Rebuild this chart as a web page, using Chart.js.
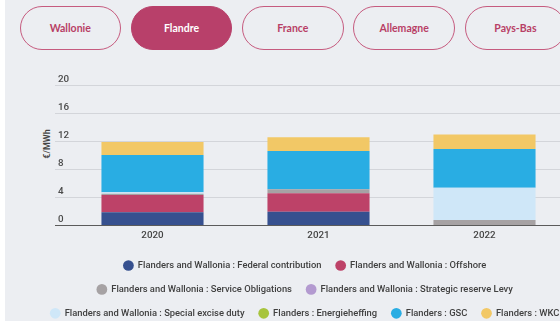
<!DOCTYPE html>
<html lang="fr">
<head>
<meta charset="UTF-8">
<title>Flandre - €/MWh</title>
<script src="https://cdn.jsdelivr.net/npm/chart.js"></script>
<style>
  html, body {
    margin: 0;
    padding: 0;
    width: 560px;
    height: 321px;
    overflow: hidden;
    background: #ffffff;
  }
  #bg {
    position: absolute;
    left: 5px;
    top: 0;
    width: 600px;
    height: 340px;
    background: #eceef2;
  }
  .tabs {
    position: absolute;
    left: 19.5px;
    top: 6.3px;
    display: flex;
    gap: 9.8px;
  }
  .tabs button {
    width: 101.5px;
    height: 44px;
    box-sizing: border-box;
    padding: 0;
    border: 1.2px solid #c65b7f;
    border-radius: 22px;
    background: transparent;
    color: #b83f66;
    font: 700 10.5px Lato, sans-serif;
  }
  .tabs button.active {
    background: #b8406a;
    border-color: #b8406a;
    color: #ffffff;
  }
  #unit {
    position: absolute;
    left: 47px;
    top: 144px;
    transform: translate(-50%, -50%) rotate(-90deg);
    font: 600 9px Roboto, sans-serif;
    color: #444444;
    white-space: nowrap;
  }
  #chart {
    position: absolute;
    left: 20px;
    top: 58px;
  }
</style>
</head>
<body>
<div id="bg"></div>
<div class="tabs">
  <button>Wallonie</button>
  <button class="active">Flandre</button>
  <button>France</button>
  <button>Allemagne</button>
  <button>Pays-Bas</button>
</div>
<span id="unit">€/MWh</span>
<canvas id="chart" width="570" height="270"></canvas>

<script>
// years on the x axis
const years = ['2020', '2021', '2022'];

// €/MWh per component
const federalContribution = [1.88, 1.96, 0];
const offshore = [2.46, 2.62, 0];
const serviceObligations = [0.18, 0.57, 0.78];
const strategicReserve = [0, 0, 0];
const specialExcise = [0.2, 0, 4.6];
const energieheffing = [0, 0, 0];
const gsc = [5.3, 5.45, 5.5];
const wkc = [1.85, 1.95, 2.09];

const yTicks = { min: 0, max: 20, step: 4 };

const series = [
  { label: 'Flanders and Wallonia : Federal contribution', data: federalContribution, color: '#36508f' },
  { label: 'Flanders and Wallonia : Offshore', data: offshore, color: '#bd4268' },
  { label: 'Flanders and Wallonia : Service Obligations', data: serviceObligations, color: '#a6a2a4' },
  { label: 'Flanders and Wallonia : Strategic reserve Levy', data: strategicReserve, color: '#b39ad0' },
  { label: 'Flanders and Wallonia : Special excise duty', data: specialExcise, color: '#cfe7f8' },
  { label: 'Flanders : Energieheffing', data: energieheffing, color: '#a7c43c' },
  { label: 'Flanders : GSC', data: gsc, color: '#29ade3' },
  { label: 'Flanders : WKC', data: wkc, color: '#f2c866' }
];

Chart.defaults.font.family = 'Roboto, sans-serif';

new Chart(document.getElementById('chart'), {
  type: 'bar',
  data: {
    labels: years,
    datasets: series.map(s => ({
      label: s.label,
      data: s.data,
      backgroundColor: s.color,
      borderWidth: 0
    }))
  },
  options: {
    responsive: false,
    animation: false,
    layout: { padding: { top: 27, left: 0, right: 0, bottom: 0 } },
    datasets: {
      bar: { categoryPercentage: 1, barPercentage: 0.615 }
    },
    scales: {
      x: {
        stacked: true,
        grid: { display: false, drawTicks: false },
        border: { display: false },
        ticks: { color: '#444444', font: { size: 9.8, weight: 500 }, padding: 4 },
        afterFit: s => { s.height = 20.8; }
      },
      y: {
        stacked: true,
        min: yTicks.min,
        max: yTicks.max,
        ticks: {
          stepSize: yTicks.step,
          mirror: true,
          padding: -11.5,
          labelOffset: -5.5,
          color: '#4a4a4a',
          font: { size: 9.8, weight: 500 }
        },
        grid: {
          color: c => c.tick && c.tick.value === 0 ? '#5b5b5b' : '#d3d5da',
          tickLength: 14.5,
          lineWidth: 1
        },
        border: { display: false },
        afterFit: s => { s.width = 49.5; }
      },
      // empty axis on the right so the legend gets the full width
      yRight: {
        type: 'linear',
        position: 'right',
        grid: { display: false, drawTicks: false },
        ticks: { display: false },
        border: { display: false },
        afterFit: s => { s.width = 22.5; }
      }
    },
    plugins: {
      tooltip: { enabled: false },
      legend: {
        position: 'bottom',
        align: 'center',
        labels: {
          usePointStyle: true,
          pointStyle: 'circle',
          boxWidth: 9.4,
          boxHeight: 7.6,
          padding: 14.5,
          color: '#404040',
          font: { size: 9.4, weight: 500 }
        }
      }
    }
  }
});
</script>
</body>
</html>
